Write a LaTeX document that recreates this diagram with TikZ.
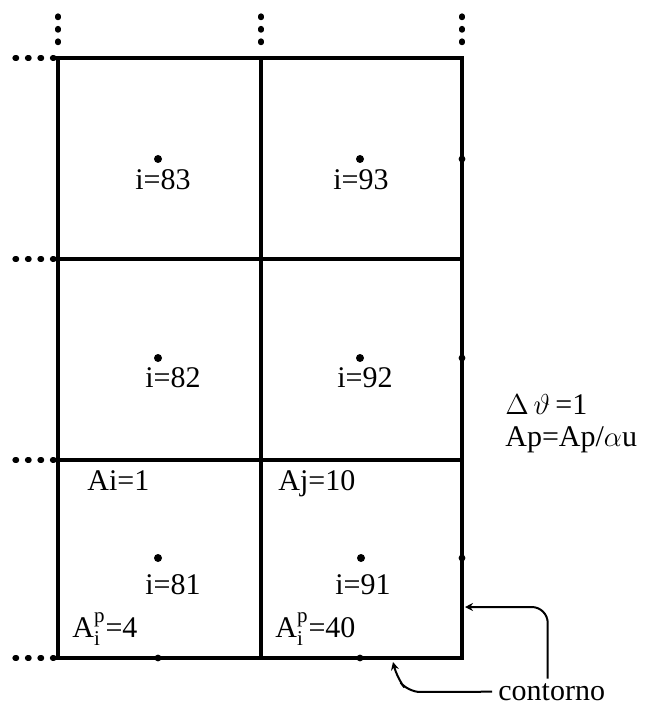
\documentclass[tikz,border=0pt]{standalone}
\usepackage{amsmath}
\usepackage{fontspec}
\setmainfont{Liberation Serif}
\usetikzlibrary{arrows.meta,positioning}

\begin{document}
\begin{tikzpicture}[
    x=0.5pt, y=-0.5pt,
    grid/.style={line width=2.2pt, line cap=rect},
    ext/.style={line width=2.6pt, line cap=round, dash pattern=on 0.8pt off 5.45pt},
    lbl/.style={anchor=base west, inner sep=0pt, font=\fontsize{15}{18}\selectfont},
    cdot/.style={circle, fill, inner sep=0pt, minimum size=4pt},
    bdot/.style={circle, fill, inner sep=0pt, minimum size=3.4pt},
    arr/.style={-{Stealth[length=4pt, width=4pt]}, line width=1pt}
  ]
  \useasboundingbox (0,0) rectangle (645,705);
  % grid and dotted continuations
  \foreach \x in {58,261,462} {
    \draw[grid] (\x,58) -- (\x,658);
    \draw[ext] (\x,16) -- (\x,46);
  }
  \foreach \y in {58,259,460,658} {
    \draw[grid] (58,\y) -- (462,\y);
    \draw[ext] (15,\y) -- (54,\y);
  }
  % cell centres
  \foreach \n/\x/\y in {83/158/159, 93/360/159, 82/158/358, 92/360/358, 81/158/558, 91/361/558}
    \node[cdot] (c\n) at (\x,\y) {};
  % boundary points
  \foreach \y in {159,358,558}
    \node[bdot] (r\y) at (462,\y) {};
  \foreach \x in {158,360}
    \node[bdot] (b\x) at (\x,658) {};
  % labels
  \node[lbl] (l83) at (135,190) {i=83};
  \node[lbl] (l93) at (333,190) {i=93};
  \node[lbl] (l82) at (145,387) {i=82};
  \node[lbl] (l92) at (337,387) {i=92};
  \node[lbl] (l81) at (145,594) {i=81};
  \node[lbl] (l91) at (335,594) {i=91};
  \node[lbl] (ai) at (87,490) {Ai=1};
  \node[lbl] (aj) at (278,490) {Aj=10};
  \node[lbl] (ap81) at (72,637) {A$^{\text{p}}_{\text{i}}$=4};
  \node[lbl] (ap91) at (275,637) {A$^{\text{p}}_{\text{i}}$=40};
  \node[lbl] (dth) at (505,414) {$\Delta\,\vartheta$\,=1};
  \node[lbl] (apu) at (505,446) {Ap=Ap/$\alpha$u};
  \node[lbl] (cont) at (498,700) {contorno};
  % contour arrows
  \coordinate (tipR) at (465,607);
  \coordinate (tipB) at (393,662);
  \draw[arr, rounded corners=8pt] ([xshift=-2pt, yshift=2pt]cont.north) |- (tipR);
  \draw[arr, rounded corners=6pt] ([xshift=-3pt]cont.west) -- (408,692) -- (397,678) -- (tipB);
\end{tikzpicture}
\end{document}
